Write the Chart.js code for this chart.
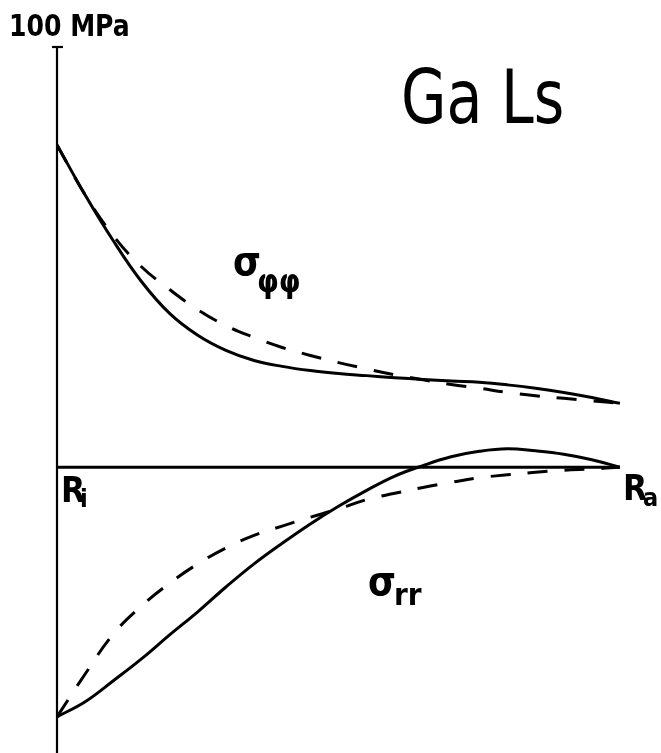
<!DOCTYPE html>
<html>
<head>
<meta charset="utf-8">
<script src="https://cdn.jsdelivr.net/npm/chart.js@4"></script>
<style>
  html, body { margin: 0; padding: 0; background: #fff; }
  canvas { display: block; }
</style>
</head>
<body>
<canvas id="stress" width="661" height="753"></canvas>
<script>
// radial position, 0 = R_i, 1 = R_a
const radius = [0, 0.05, 0.1, 0.15, 0.2, 0.25, 0.3, 0.35, 0.4, 0.45, 0.5,
                0.55, 0.6, 0.65, 0.7, 0.75, 0.8, 0.85, 0.9, 0.95, 1.0];

// tangential stress (MPa), measured (solid) and calculated (dashed)
const sigmaPhiMeasured = [76.7, 64.8, 53.9, 44.2, 36.6, 31.4, 27.8, 25.4, 24.0, 23.0, 22.3,
                          21.8, 21.3, 20.9, 20.5, 20.2, 19.6, 18.8, 17.8, 16.6, 15.2];
const sigmaPhiCalc = [76.7, 64.8, 55.1, 47.7, 42.3, 37.5, 33.7, 30.9, 28.5, 26.6, 24.9,
                      23.4, 22.0, 20.8, 19.7, 18.8, 17.8, 17.0, 16.4, 15.8, 15.2];

// radial stress (MPa)
const sigmaRMeasured = [-59.4, -55.8, -50.8, -45.6, -39.9, -34.4, -28.5, -23.0, -18.1, -13.5, -9.3,
                        -5.5, -2.1, 0.4, 2.5, 3.8, 4.4, 3.9, 3.1, 1.8, 0];
const sigmaRCalc = [-59.4, -49.2, -39.7, -33.0, -27.6, -23.0, -19.2, -16.2, -14.0, -11.9, -9.9,
                    -7.7, -6.2, -4.8, -3.6, -2.5, -1.8, -1.2, -0.7, -0.4, 0];

const yTop = 100;
const yBottom = -68;

function points(values){
  var pts = []
  for(var i = 0; i < radius.length; i++){
    pts.push({x: radius[i], y: values[i]})
  }
  return pts
}

function lineSet(values, dashed){
  return {
    data: points(values),
    borderColor: '#000',
    borderWidth: 3,
    borderDash: dashed ? [20, 17] : [],
    borderCapStyle: 'butt',
    pointRadius: 0,
    fill: false,
    tension: 0.4
  }
}

const font = '"DejaVu Sans Condensed", "DejaVu Sans", sans-serif';

// text squeezed horizontally, the lettering is narrower than the font
function narrowText(ctx, text, x, y, sx){
  ctx.save();
  ctx.translate(x, y);
  ctx.scale(sx, 1);
  ctx.fillText(text, 0, 0);
  ctx.restore();
}

// axes, unit tick and the labels drawn on top of the plot
const annotations = {
  id: 'annotations',
  afterDatasetsDraw(chart){
    const ctx = chart.ctx;
    const x = chart.scales.x;
    const y = chart.scales.y;
    const x0 = x.getPixelForValue(0);
    const x1 = x.getPixelForValue(1);
    const y0 = y.getPixelForValue(0);
    const y100 = y.getPixelForValue(yTop);

    ctx.save();
    ctx.strokeStyle = '#000';
    ctx.lineCap = 'butt';

    // vertical stress axis
    ctx.lineWidth = 2.2;
    ctx.beginPath();
    ctx.moveTo(x0, y100);
    ctx.lineTo(x0, chart.height);
    ctx.stroke();

    // 100 MPa tick
    ctx.beginPath();
    ctx.moveTo(x0 - 5, y100);
    ctx.lineTo(x0 + 6, y100);
    ctx.stroke();

    // zero line from R_i to R_a
    ctx.lineWidth = 2.8;
    ctx.beginPath();
    ctx.moveTo(x0, y0);
    ctx.lineTo(x1, y0);
    ctx.stroke();

    ctx.fillStyle = '#000';
    ctx.textBaseline = 'alphabetic';
    ctx.textAlign = 'left';

    ctx.font = 'bold 31px ' + font;
    narrowText(ctx, '100 MPa', 9, 36, 0.9);

    ctx.font = '75px ' + font;
    narrowText(ctx, 'Ga Ls', 401, 123, 0.87);

    // sigma labels with subscripts
    ctx.font = 'bold 40px ' + font;
    ctx.fillText('σ', 233, 275);
    ctx.font = 'bold 31px ' + font;
    ctx.fillText('φφ', 257, 292);

    ctx.font = 'bold 40px ' + font;
    ctx.fillText('σ', 368, 595);
    ctx.font = 'bold 31px ' + font;
    ctx.fillText('rr', 394, 605);

    // R_i and R_a
    ctx.font = 'bold 35px ' + font;
    ctx.fillText('R', 61, 502);
    ctx.font = 'bold 25px ' + font;
    ctx.fillText('i', 80, 507);

    ctx.font = 'bold 35px ' + font;
    ctx.fillText('R', 623, 500);
    ctx.font = 'bold 25px ' + font;
    ctx.fillText('a', 643, 506);

    ctx.restore();
  }
};

const chartInstance = new Chart(
  document.getElementById('stress'),
  {
    type: 'line',
    data: {
      datasets: [
        lineSet(sigmaPhiMeasured, false),
        lineSet(sigmaPhiCalc, true),
        lineSet(sigmaRMeasured, false),
        lineSet(sigmaRCalc, true)
      ]
    },
    options: {
      responsive: false,
      animation: false,
      layout: {
        padding: {left: 57, right: 41, top: 47, bottom: 0}
      },
      scales: {
        x: { type: 'linear', min: 0, max: 1, display: false },
        y: { min: yBottom, max: yTop, display: false }
      },
      plugins: {
        legend: { display: false },
        tooltip: { enabled: false }
      }
    },
    plugins: [annotations]
  }
);
</script>
</body>
</html>
